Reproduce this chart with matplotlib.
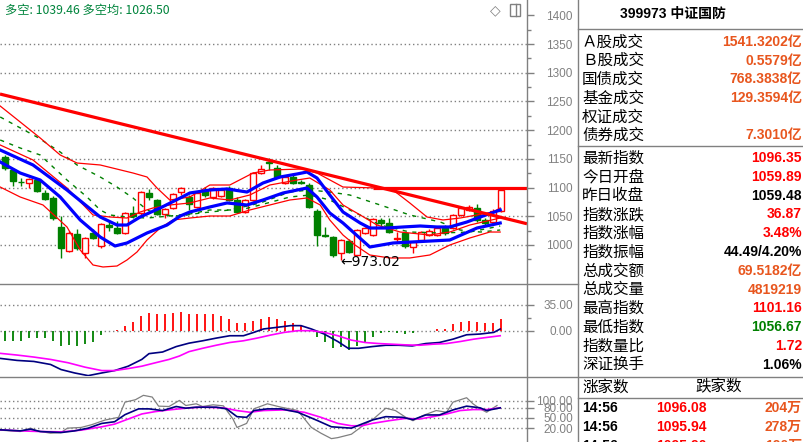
import matplotlib
matplotlib.use("Agg")
import matplotlib.pyplot as plt
from matplotlib.lines import Line2D
from matplotlib.patches import Rectangle

plt.rcParams['font.family'] = ['Liberation Sans', 'Noto Sans CJK SC', 'DejaVu Sans']

# ---------------- data ----------------
opens = [1153.3, 1130.7, 1110.5, 1108.0, 1113.2, 1090.6, 1081.9, 1031.4, 989.5, 1019.2,
         986.1, 1020.9, 998.3, 1034.8, 1029.6, 1020.9, 1055.7, 1055.7, 1090.6, 1078.4,
         1054.0, 1064.5, 1092.3, 1083.6, 1066.2, 1095.8, 1083.6, 1085.4, 1099.3, 1078.4,
         1057.5, 1078.4, 1125.4, 1144.6, 1134.1, 1108.0, 1118.5, 1109.7, 1104.5, 1059.2,
         1017.4, 1013.9, 986.1, 1007.0, 982.6, 1020.9, 1017.4, 1043.6, 1038.3, 1010.5,
         1020.9, 996.5, 1008.7, 1017.4, 1017.4, 1029.6, 1029.6, 1052.3, 1061.0, 1064.5,
         1043.6, 1040.1, 1059.89]
highs = [1156.8, 1134.1, 1116.7, 1116.7, 1116.7, 1095.8, 1085.4, 1050.5, 1024.4, 1027.9,
         1013.9, 1027.9, 1038.3, 1040.1, 1041.8, 1057.5, 1067.9, 1094.1, 1097.6, 1080.1,
         1064.5, 1090.6, 1101.0, 1087.1, 1092.3, 1101.0, 1101.0, 1097.6, 1102.8, 1083.6,
         1080.1, 1127.2, 1139.4, 1151.6, 1139.4, 1120.2, 1125.4, 1113.2, 1108.0, 1062.7,
         1031.4, 1015.7, 1010.5, 1010.5, 1027.9, 1031.4, 1047.0, 1047.0, 1047.0, 1022.6,
         1022.6, 1007.0, 1024.4, 1027.9, 1031.4, 1034.8, 1054.0, 1066.2, 1069.7, 1071.4,
         1047.0, 1062.0, 1101.16]
lows = [1130.7, 1102.8, 1102.8, 1099.3, 1092.3, 1078.4, 1043.6, 977.4, 987.8, 991.3,
        977.4, 1010.5, 994.8, 1024.4, 1019.2, 1019.2, 1047.0, 1052.3, 1078.4, 1052.3,
        1047.0, 1062.7, 1087.1, 1061.0, 1064.5, 1083.6, 1080.1, 1083.6, 1076.6, 1055.7,
        1055.7, 1076.6, 1123.7, 1130.7, 1116.7, 1106.3, 1106.3, 1106.3, 1064.5, 998.3,
        1013.9, 979.1, 973.02, 986.1, 981.0, 1019.2, 1015.7, 1031.4, 1020.9, 1005.2,
        994.8, 986.1, 1007.0, 1015.7, 1015.7, 1017.4, 1027.9, 1050.5, 1059.2, 1040.1,
        1033.1, 1038.0, 1056.67]
closes = [1134.1, 1111.5, 1109.7, 1115.0, 1094.1, 1080.1, 1047.0, 994.8, 1020.9, 994.8,
          1012.2, 1012.2, 1036.6, 1031.4, 1020.9, 1055.7, 1050.5, 1092.3, 1083.6, 1054.0,
          1062.7, 1088.8, 1099.3, 1071.4, 1090.6, 1087.1, 1099.3, 1095.8, 1078.4, 1057.5,
          1078.4, 1125.4, 1132.4, 1142.8, 1118.5, 1118.5, 1108.0, 1108.0, 1066.2, 1017.4,
          1015.7, 982.6, 1008.7, 987.8, 1026.1, 1029.6, 1045.3, 1038.3, 1022.6, 1012.2,
          998.3, 1005.2, 1022.6, 1024.4, 1029.6, 1020.9, 1052.3, 1064.5, 1066.2, 1043.6,
          1038.3, 1059.48, 1096.35]

# overlay lines on price chart (bar index, price)
blue_up_x = [-0.6, 3.5, 7.75, 11.9, 14, 15.25, 16.9, 19.4, 21.9, 23.1, 25.6, 27.75, 30.25, 32.25,
             34.4, 36.5, 37.75, 39, 40.6, 42.25, 44.4, 45.6, 47.75, 49.75, 51.9, 54, 55.6, 57.75,
             59.75, 61.9]
blue_up_y = [1165.5, 1139.4, 1095.8, 1048.8, 1034.8, 1034.8, 1048.8, 1064.5, 1081.9, 1090.6,
             1095.8, 1097.6, 1092.3, 1108.0, 1118.5, 1123.7, 1127.2, 1116.7, 1087.1, 1057.5,
             1038.3, 1029.6, 1029.6, 1031.4, 1033.1, 1031.4, 1031.4, 1040.1, 1050.5, 1061.0]
blue_lo_x = [-0.6, 1.9, 4.4, 6.9, 9.4, 11.9, 13.75, 15.25, 17.75, 20.25, 21.9, 23.1, 25.6, 27.75,
             30.25, 32.25, 34.75, 37.75, 39, 40.6, 42.25, 45.6, 48.5, 55.6, 59, 61.9]
blue_lo_y = [1144.6, 1125.4, 1113.2, 1083.6, 1043.6, 1013.9, 998.3, 1003.5, 1020.9, 1034.8,
             1050.5, 1057.5, 1066.2, 1073.2, 1069.7, 1078.4, 1090.6, 1099.3, 1083.6, 1055.7,
             1038.3, 996.5, 1003.5, 1008.7, 1029.6, 1038.3]
red_up_x = [-0.6, 1.9, 4.4, 6.9, 9, 11.9, 16, 17.75, 19, 20.6, 23.1, 25.6, 28.1, 31, 33.1, 37.25,
            39, 42.25, 46.5, 48.5, 50.6, 52.75, 54.75, 56.9, 61, 61.9]
red_up_y = [1242.1, 1214.3, 1186.4, 1156.8, 1142.8, 1139.4, 1125.4, 1118.5, 1099.3, 1078.4,
            1083.6, 1104.5, 1104.5, 1125.4, 1130.7, 1132.4, 1125.4, 1101.0, 1099.3, 1095.8,
            1073.2, 1048.8, 1043.6, 1047.0, 1057.5, 1064.5]
red_mid_x = [-0.6, 3.5, 7.75, 11, 13.1, 15.25, 16.9, 18.5, 20.6, 23.1, 25.6, 28.1, 30.6, 33.1,
             36.5, 38.1, 40.6, 42.25, 44.4, 46.5, 49.4, 53.1, 55.6, 58.1, 61.9]
red_mid_y = [1174.2, 1148.1, 1099.3, 1052.3, 1048.8, 1047.0, 1057.5, 1064.5, 1069.7, 1073.2,
             1081.9, 1078.4, 1087.1, 1104.5, 1113.2, 1116.7, 1095.8, 1069.7, 1052.3, 1034.8,
             1022.6, 1017.4, 1022.6, 1034.8, 1047.0]
red_lo_x = [-0.6, 1.9, 4.75, 7.75, 9.4, 11, 12.25, 14, 15.25, 16.5, 17.75, 19.4, 21, 23.1, 25.6,
            28.1, 30.6, 33.1, 35.6, 37.75, 39.4, 40.6, 42.25, 43.75, 45.6, 48.1, 50.6, 53.1,
            55.6, 58.1, 60.6, 61.9]
red_lo_y = [1101.0, 1083.6, 1069.7, 1031.4, 991.3, 965.2, 961.7, 963.4, 973.9, 987.8, 1008.7,
            1029.6, 1043.6, 1047.0, 1050.5, 1050.5, 1061.0, 1069.7, 1078.4, 1081.9, 1069.7,
            1043.6, 1017.4, 1000.0, 982.6, 977.4, 977.4, 982.6, 1000.0, 1012.2, 1022.6, 1022.6]
green1_x = [-0.6, 4, 6.9, 9, 11.9, 14, 16, 17.75, 19.4, 21.9, 24.4, 28.1, 31.9, 35.6, 38.1, 40.6,
            43.1, 46.9, 50.6, 54.4, 56.9, 59.4, 61.9]
green1_y = [1223.0, 1188.1, 1162.0, 1139.4, 1118.5, 1101.0, 1081.9, 1061.0, 1052.3, 1050.5,
            1055.7, 1061.0, 1073.2, 1092.3, 1095.8, 1092.3, 1087.1, 1069.7, 1052.3, 1040.1,
            1026.1, 1022.6, 1026.1]
green2_x = [-0.6, 1.9, 4.4, 7.75, 10.25, 11.9, 13.1, 15.25, 17.75, 20.6, 23.1, 25.6, 29.4, 31.9,
            35.6, 38.1, 40.6, 43.1, 46.9, 50.6, 54.4, 58.1, 61.9]
green2_y = [1182.9, 1169.0, 1156.8, 1113.2, 1083.6, 1061.0, 1052.3, 1048.8, 1047.0, 1050.5,
            1054.0, 1061.0, 1061.0, 1069.7, 1083.6, 1087.1, 1078.4, 1061.0, 1034.8, 1022.6,
            1020.9, 1022.6, 1033.1]
trend_x = [-0.625, 65.25]
trend_y = [1263.0, 1037.0]
resist_x = [46.0, 65.25]
resist_y = [1099.3, 1099.3]
low_idx = 42
low_val = 973.02

# MACD
macd_hist = [-13.5, -13.5, -13.5, -9.9, -9.9, -9.9, -13.5, -21.1, -19.3, -21.1,
             -17.9, -14.8, -5.8, -0.9, 0.9, 6.7, 12.1, 20.2, 24.2, 22.0,
             22.0, 24.2, 25.6, 22.9, 22.9, 22.0, 22.0, 20.2, 16.2, 10.8,
             9.9, 13.5, 16.2, 17.9, 16.2, 13.5, 10.8, 6.7, 0.9, -9.0,
             -15.7, -23.8, -21.5, -25.6, -20.2, -15.7, -8.1, -3.6, -2.2, -3.6,
             -4.5, -3.1, 0.0, 0.0, 2.7, 2.7, 8.5, 12.1, 13.5, 12.1,
             9.9, 10.8, 16.2]
dif_x = [-0.6, 1.5, 3.6, 5.7, 7.0, 8.7, 10.4, 12.1, 13.7, 15.4, 17.1, 18.0, 19.7, 21.4, 23.0,
         24.7, 26.4, 28.1, 29.8, 31.1, 32.3, 34.0, 35.7, 37.0, 38.3, 39.9, 41.6, 42.9, 44.2, 45.9,
         47.6, 49.2, 50.9, 52.6, 54.3, 56.0, 57.7, 59.4, 61.1, 61.9]
dif_y = [-37.3, -40.0, -41.4, -45.5, -52.3, -56.9, -60.5, -56.9, -53.7, -47.8, -38.7, -30.9,
         -28.7, -21.4, -16.8, -13.6, -10.0, -6.8, -6.8, -2.3, 2.3, 4.5, 6.8, 6.8, 2.3, -4.5,
         -14.6, -23.7, -23.7, -21.4, -19.6, -19.6, -20.5, -17.3, -15.9, -11.4, -5.5, -4.5,
         -2.3, 2.3]
dea_x = [-0.6, 1.5, 3.6, 5.7, 7.9, 10.0, 12.1, 13.7, 15.4, 17.1, 18.8, 20.5, 21.8, 23.0, 24.7,
         26.4, 28.1, 29.8, 31.5, 33.2, 34.9, 36.6, 38.3, 39.9, 41.6, 43.3, 45.0, 46.7, 48.4,
         50.1, 51.8, 53.5, 55.2, 56.9, 58.6, 60.2, 61.9]
dea_y = [-30.5, -32.8, -35.5, -38.7, -43.2, -49.1, -53.7, -53.7, -51.0, -47.8, -43.2, -38.7,
         -34.1, -28.2, -23.7, -19.6, -15.9, -13.6, -10.0, -5.9, -2.3, 0.0, 0.0, -2.3, -6.8,
         -12.7, -15.9, -17.3, -18.2, -19.1, -19.6, -18.2, -17.3, -14.6, -11.4, -9.1, -6.8]

# KDJ
j_x = [-0.6, 1.9, 3.2, 4.0, 5.7, 7.0, 7.8, 9.5, 10.8, 12.5, 14.2, 15.0, 16.3, 17.3, 18.4, 19.2,
       20.5, 21.8, 22.6, 23.9, 24.7, 26.0, 27.3, 28.5, 29.0, 30.2, 31.1, 32.8, 34.5, 36.6, 38.3,
       39.5, 40.8, 41.6, 43.3, 45.0, 45.9, 47.6, 48.8, 50.1, 51.0, 52.2, 53.9, 55.2, 56.0, 57.7,
       58.5, 59.4, 60.2, 61.5]
j_y = [14.2, 10.2, 20.1, 12.1, 5.2, 7.2, 20.1, 22.1, 30.0, 43.9, 51.8, 96.4, 103.4, 116.3, 111.3,
       84.6, 83.6, 101.4, 86.5, 91.5, 83.6, 88.5, 85.5, 46.8, 22.1, 34.0, 76.6, 91.5, 81.6, 71.7,
       22.1, 5.2, -10.6, -7.7, 2.3, 32.0, 43.9, 78.6, 71.7, 51.8, 41.9, 56.8, 71.7, 66.7, 96.4,
       109.3, 91.5, 76.6, 66.7, 86.5]
k_x = [-0.6, 1.9, 3.2, 4.4, 7.0, 8.7, 10.4, 12.1, 13.7, 15.0, 16.7, 18.0, 19.7, 21.4, 22.6, 23.9,
       26.4, 27.7, 29.0, 30.2, 31.1, 32.8, 34.5, 36.6, 39.1, 40.8, 43.3, 44.6, 45.9, 47.6, 49.7,
       51.0, 52.6, 54.3, 56.0, 57.7, 59.4, 60.2, 61.9]
k_y = [15.2, 12.1, 17.1, 10.2, 7.2, 12.1, 20.1, 34.0, 38.9, 59.7, 76.6, 76.6, 71.7, 83.6, 78.6,
       81.6, 81.6, 76.6, 53.8, 51.8, 71.7, 76.6, 76.6, 66.7, 41.9, 24.1, 20.1, 32.0, 43.9, 53.8,
       51.8, 44.9, 58.8, 58.8, 73.6, 84.6, 79.6, 71.7, 79.6]
d_x = [-0.6, 1.9, 4.4, 7.0, 9.5, 12.1, 13.7, 15.4, 17.1, 18.8, 20.5, 23.0, 24.7, 27.3, 29.0, 30.6,
       32.3, 34.9, 37.4, 39.5, 41.6, 43.3, 44.6, 45.9, 48.0, 50.1, 51.8, 53.5, 55.2, 56.9, 58.5,
       60.2, 61.9]
d_y = [15.2, 12.1, 10.2, 9.2, 14.2, 24.1, 32.0, 46.8, 61.7, 68.7, 73.6, 79.6, 81.6, 79.6, 71.7,
       66.7, 71.7, 73.6, 66.7, 51.8, 34.0, 27.1, 27.1, 34.0, 41.9, 48.8, 46.8, 53.8, 61.7, 71.7,
       74.6, 74.6, 79.6]

price_ticks = [1000, 1050, 1100, 1150, 1200, 1250, 1300, 1350, 1400]
macd_ticks = [0, 35]
kdj_ticks = [20, 50, 80, 100]

# ---------------- figure ----------------
W, H = 804, 442
fig = plt.figure(figsize=(W / 100, H / 100), dpi=100)
fig.patch.set_facecolor('white')

def px_axes(x0, y0, w, h):
    return fig.add_axes([x0 / W, 1 - (y0 + h) / H, w / W, h / H])

GRAY = '#808080'
RED = '#ff0000'
GREEN = '#008000'
BLUE = '#0000ff'
ORANGE = '#e8561e'
XL = (-0.625, 65.25)

def style_axis(ax, ticks, fmt, minor=None):
    ax.set_xlim(*XL)
    for s in ax.spines.values():
        s.set_visible(False)
    ax.set_xticks([])
    ax.yaxis.tick_right()
    ax.set_yticks(ticks)
    ax.set_yticklabels([fmt(t) for t in ticks])
    ax.tick_params(axis='y', which='major', direction='out', length=5, width=1,
                   color=GRAY, labelcolor=GRAY, labelsize=8.5, pad=28)
    if minor is not None:
        ax.set_yticks(minor, minor=True)
        ax.tick_params(axis='y', which='minor', direction='out', length=3, width=1, color=GRAY)
    for lbl in ax.get_yticklabels():
        lbl.set_horizontalalignment('right')

# main price axes
ax = px_axes(0, 0, 527, 283)
ax.set_ylim(933.8, 1426.8)
style_axis(ax, price_ticks, lambda v: f"{v}",
           minor=[975, 1025, 1075, 1125, 1175, 1225, 1275, 1325, 1375])
for t in price_ticks[:-1]:
    ax.axhline(t, color=GRAY, lw=1, ls=(0, (1, 2)), zorder=0)

idx = list(range(len(opens)))
for i in idx:
    o, h, l, c = opens[i], highs[i], lows[i], closes[i]
    up = c >= o
    col = RED if up else GREEN
    ax.vlines(i, l, h, color=col, lw=1, zorder=2)
    bot = min(o, c)
    hgt = max(abs(c - o), 0.9)
    ax.bar(i, hgt, bottom=bot, width=0.66, facecolor='white' if up else GREEN,
           edgecolor=col, linewidth=1, zorder=3)

ax.plot(green1_x, green1_y, color=GREEN, lw=1, ls=(0, (3, 4)), zorder=4)
ax.plot(green2_x, green2_y, color=GREEN, lw=1, ls=(0, (3, 4)), zorder=4)
ax.plot(red_up_x, red_up_y, color=RED, lw=0.9, zorder=4)
ax.plot(red_mid_x, red_mid_y, color=RED, lw=0.9, zorder=4)
ax.plot(red_lo_x, red_lo_y, color=RED, lw=0.9, zorder=4)
ax.plot(blue_up_x, blue_up_y, color=BLUE, lw=2.3, zorder=5)
ax.plot(blue_lo_x, blue_lo_y, color=BLUE, lw=2.3, zorder=5)
ax.plot(trend_x, trend_y, color=RED, lw=2.3, zorder=6, solid_capstyle='butt')
ax.plot(resist_x, resist_y, color=RED, lw=2.3, zorder=6, solid_capstyle='butt')
ax.text(low_idx - 0.1, low_val - 3, "\u2190973.02", ha='left', va='center', fontsize=10,
        color='black', family=['DejaVu Sans'], zorder=7)
ax.text(0.01, 0.985, "多空: 1039.46 多空均: 1026.50", transform=ax.transAxes, ha='left', va='top',
        fontsize=8.8, color='#00843c', family=['Noto Sans CJK SC', 'DejaVu Sans'])

# MACD axes
ax2 = px_axes(0, 283, 527, 93)
ax2.set_ylim(-61.0, 64.2)
style_axis(ax2, macd_ticks, lambda v: f"{v:.2f}", minor=[17.5])
for t in macd_ticks:
    ax2.axhline(t, color=GRAY, lw=1, ls=(0, (1, 2)), zorder=0)
for i, v in enumerate(macd_hist):
    if v != 0:
        ax2.vlines(i, 0, v, color=RED if v > 0 else GREEN, lw=1.3, zorder=2)
ax2.plot(dif_x, dif_y, color='#000080', lw=1.2, zorder=3)
ax2.plot(dea_x, dea_y, color='#ff00ff', lw=1.2, zorder=3)

# KDJ axes
ax3 = px_axes(0, 376, 527, 66)
ax3.set_ylim(-20.5, 173)
style_axis(ax3, kdj_ticks, lambda v: f"{v:.2f}")
for t in kdj_ticks:
    ax3.axhline(t, color=GRAY, lw=1, ls=(0, (1, 2)), zorder=0)
ax3.plot(j_x, j_y, color=GRAY, lw=0.9, zorder=2)
ax3.plot(d_x, d_y, color='#ff00ff', lw=1.2, zorder=3)
ax3.plot(k_x, k_y, color='#000080', lw=1.2, zorder=4)

# ---------------- frame lines ----------------
def fline(x0, y0, x1, y1, color=GRAY, lw=1):
    fig.add_artist(Line2D([x0 / W, x1 / W], [1 - y0 / H, 1 - y1 / H], color=color, lw=lw))

fline(527.5, 0, 527.5, H)
fline(578.5, 0, 578.5, H)
fline(0, 283.5, 578.5, 283.5)
fline(0, 376.5, W, 376.5)
fline(578.5, 28.5, W, 28.5)
fline(578.5, 145.5, W, 145.5)
fline(578.5, 397.5, W, 397.5)

# top-right icons
fig.text(495 / W, 1 - 10 / H, "\u25c7", ha='center', va='center', fontsize=10, color=GRAY,
         family=['DejaVu Sans'])
fig.add_artist(Rectangle((510 / W, 1 - 16 / H), 10 / W, 12 / H, fill=False, ec=GRAY, lw=1))
fig.add_artist(Line2D([516 / W, 516 / W], [1 - 16 / H, 1 - 4 / H], color=GRAY, lw=1))

# ---------------- info panel ----------------
def T(x, y, s, color='black', size=11, ha='left', weight='normal', fam=None):
    fig.text(x / W, 1 - y / H, s, color=color, fontsize=size, ha=ha, va='center',
             fontweight=weight, family=fam or ['Liberation Sans', 'Noto Sans CJK SC'])

CJK = ['Noto Sans CJK SC']
T(673, 14, "399973 中证国防", size=10, ha='center', weight='bold')

rows1 = [("Ａ股成交", "1541.3202亿", ORANGE), ("Ｂ股成交", "0.5579亿", ORANGE),
         ("国债成交", "768.3838亿", ORANGE), ("基金成交", "129.3594亿", ORANGE),
         ("权证成交", "", ORANGE), ("债券成交", "7.3010亿", ORANGE)]
for k, (lab, val, colr) in enumerate(rows1):
    y = 42 + k * 18.7
    T(582, y, lab, size=11.2, fam=CJK)
    if val:
        T(802, y, val, color=colr, size=10, ha='right', weight='bold')

rows2 = [("最新指数", "1096.35", RED), ("今日开盘", "1059.89", RED), ("昨日收盘", "1059.48", 'black'),
         ("指数涨跌", "36.87", RED), ("指数涨幅", "3.48%", RED), ("指数振幅", "44.49/4.20%", 'black'),
         ("总成交额", "69.5182亿", ORANGE), ("总成交量", "4819219", ORANGE),
         ("最高指数", "1101.16", RED), ("最低指数", "1056.67", GREEN), ("指数量比", "1.72", RED),
         ("深证换手", "1.06%", 'black')]
for k, (lab, val, colr) in enumerate(rows2):
    y = 158 + k * 18.8
    T(582, y, lab, size=11.2, fam=CJK)
    T(802, y, val, color=colr, size=10, ha='right', weight='bold')

T(582, 387, "涨家数", size=11.2, fam=CJK)
T(695, 387, "跌家数", size=11.2, fam=CJK)
rows3 = [("14:56", "1096.08", "204万"), ("14:56", "1095.94", "278万"), ("14:56", "1095.90", "190万")]
for k, (tm, pr, vol) in enumerate(rows3):
    y = 408 + k * 19
    T(582, y, tm, size=10, weight='bold')
    T(707, y, pr, color=RED, size=10, ha='right', weight='bold')
    T(802, y, vol, color=ORANGE, size=10, ha='right', weight='bold')

fig.savefig("out.png", dpi=100, facecolor='white')
